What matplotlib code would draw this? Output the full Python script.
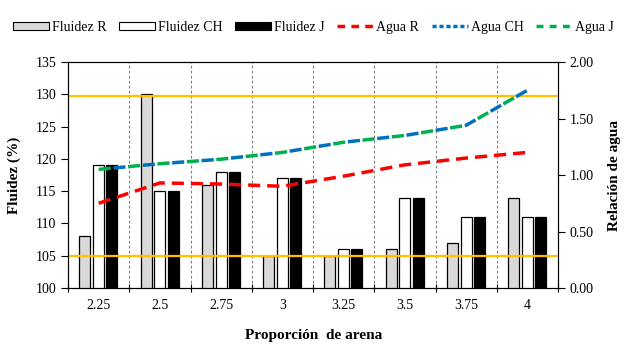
import numpy as np
import matplotlib
matplotlib.use('Agg')
import matplotlib.pyplot as plt
from matplotlib.patches import Patch
from matplotlib.lines import Line2D

plt.rcParams['font.family'] = ['Liberation Serif', 'DejaVu Serif']

categorias = ['2.25', '2.5', '2.75', '3', '3.25', '3.5', '3.75', '4']
fluidez_r = [108, 130, 116, 105, 105, 106, 107, 114]
fluidez_ch = [119, 115, 118, 117, 106, 114, 111, 111]
fluidez_j = [119, 115, 118, 117, 106, 114, 111, 111]
agua_r = [0.75, 0.93, 0.92, 0.90, 0.99, 1.09, 1.15, 1.20]
agua_ch = [1.05, 1.10, 1.14, 1.20, 1.29, 1.35, 1.44, 1.75]
agua_j = [1.05, 1.10, 1.14, 1.20, 1.29, 1.35, 1.44, 1.75]
limites = [129.75, 105]

x = np.arange(len(categorias))
w = 0.18

fig = plt.figure(figsize=(6.27, 3.47), dpi=100)
ax = fig.add_axes([0.1085, 0.170, 0.7815, 0.6513])
ax2 = ax.twinx()

ax.bar(x - 0.225, fluidez_r, w, color='#D9D9D9', edgecolor='black', linewidth=0.9, zorder=2)
ax.bar(x, fluidez_ch, w, color='white', edgecolor='black', linewidth=0.9, zorder=2)
ax.bar(x + 0.215, fluidez_j, w, color='black', edgecolor='black', linewidth=0.9, zorder=2)
for v in limites:
    ax.axhline(v, color='#FFC000', lw=1.6, zorder=3)
for b in x[:-1] + 0.5:
    ax.axvline(b, color='#808080', lw=0.8, ls=(0, (2.5, 2)), zorder=1)

ax.set_ylim(100, 135)
ax.set_yticks(np.arange(100, 136, 5))
ax.set_xlim(-0.5, len(categorias) - 0.5)
ax.set_xticks(x)
ax.set_xticklabels(categorias)
ax.set_xticks(np.arange(-0.5, len(categorias)), minor=True)
ax.tick_params(axis='x', which='major', length=0, pad=8, labelsize=10)
ax.tick_params(axis='x', which='minor', length=6, direction='inout', width=0.8)
ax.tick_params(axis='y', direction='out', length=5, width=0.8, labelsize=10)
ax.set_ylabel('Fluidez (%)', fontsize=11, fontweight='bold', labelpad=10)
fig.text(0.5, 0.032, 'Proporción  de arena', ha='center', va='center', fontsize=11, fontweight='bold')

# CH and J ratios coincide, so their dashes are interleaved
ax2.plot(x, agua_r, color='#FF0000', lw=2.5, ls=(0, (3.5, 2)))
ax2.plot(x, agua_j, color='#00B050', lw=2.5, ls=(0, (3.5, 5)))
ax2.plot(x, agua_ch, color='#0070C0', lw=2.5, ls=(4.25, (3.5, 5)))
ax2.set_ylim(0, 2)
ax2.set_yticks(np.arange(0, 2.01, 0.5))
ax2.set_yticklabels([f'{v:.2f}' for v in np.arange(0, 2.01, 0.5)])
ax2.tick_params(axis='y', direction='out', length=5, width=0.8, labelsize=10)
ax2.set_ylabel('Relación de agua', fontsize=11, fontweight='bold', labelpad=10)

for a in (ax, ax2):
    for s in a.spines.values():
        s.set_linewidth(0.8)

handles = [
    Patch(facecolor='#D9D9D9', edgecolor='black', linewidth=0.8),
    Patch(facecolor='white', edgecolor='black', linewidth=0.8),
    Patch(facecolor='black', edgecolor='black', linewidth=0.8),
    Line2D([], [], color='#FF0000', lw=2.5, ls=(0, (2.2, 1.8))),
    Line2D([], [], color='#0070C0', lw=2.5, ls=(0, (1.2, 0.8))),
    Line2D([], [], color='#00B050', lw=2.5, ls=(0, (2, 1.8))),
]
labels = ['Fluidez R', 'Fluidez CH', 'Fluidez J', 'Agua R', 'Agua CH', 'Agua J']
fig.legend(handles, labels, loc='center', bbox_to_anchor=(0.5, 0.922), ncol=6, frameon=False,
           fontsize=10, handlelength=2.6, handleheight=0.5, handletextpad=0.2, columnspacing=0.9)

fig.savefig('out.png', dpi=100)
